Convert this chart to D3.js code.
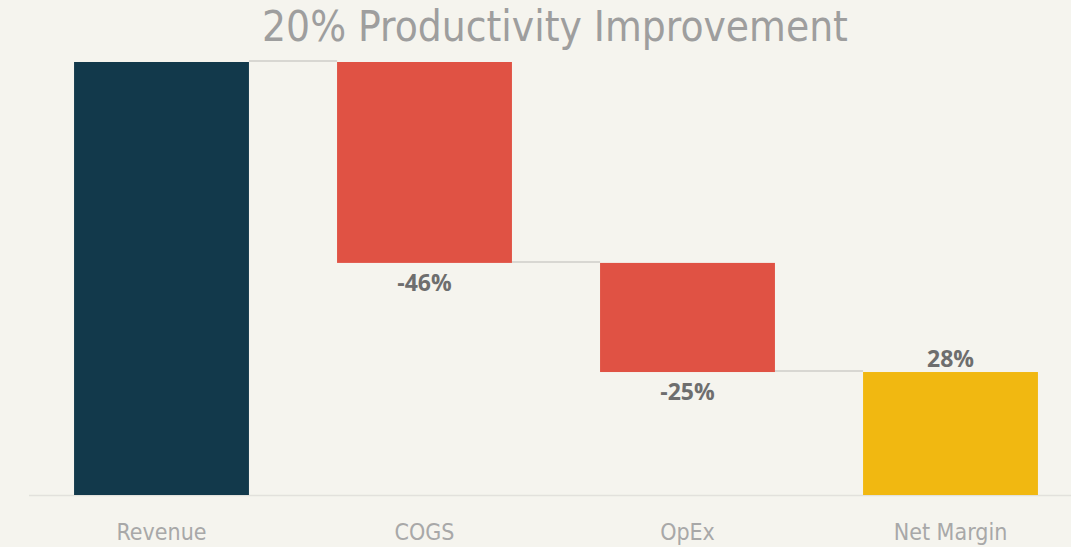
<!DOCTYPE html>
<html>
<head>
<meta charset="utf-8">
<script src="https://cdn.jsdelivr.net/npm/d3@7"></script>
<style>
  body { margin: 0; background: #f5f4ee; }
  svg { display: block; }
</style>
</head>
<body>
<svg id="chart"></svg>
<script>
// data
var categories = ["Revenue", "COGS", "OpEx", "Net Margin"];
var values = [100, -46.4, -25.2, 28.4];   // last one is the total bar
var labels = ["", "-46%", "-25%", "28%"];
var colors = ["#12394b", "#e05244", "#e05244", "#f1b811"];
var title = "20% Productivity Improvement";

var width = 1071, height = 547;
var svg = d3.select("svg#chart")
  .attr("width", width)
  .attr("height", height);

svg.append("rect")
  .attr("width", width).attr("height", height)
  .attr("fill", "#f5f4ee");

// set the ranges
var x = d3.scaleBand()
  .domain(categories)
  .range([30, 1082])
  .paddingInner(0.335)
  .paddingOuter(0.1675);
var y = d3.scaleLinear().domain([0, 100]).range([495, 62]);

// waterfall start / end for each bar
var steps = [];
var running = 0;
values.forEach(function (v, i) {
  var d = { cat: categories[i], label: labels[i], color: colors[i] };
  if (i === 0 || i === values.length - 1) {
    d.y0 = 0; d.y1 = v; running = v;
  } else {
    d.y0 = running + v; d.y1 = running; running = running + v;
  }
  steps.push(d);
});

// baseline
svg.append("line")
  .attr("x1", 29).attr("x2", width)
  .attr("y1", y(0) + 0.5).attr("y2", y(0) + 0.5)
  .attr("stroke", "#e2e1dc").attr("stroke-width", 1.5);

// connectors
for (var i = 0; i < steps.length - 1; i++) {
  var level = (i === 0) ? steps[i].y1 : steps[i].y0;
  svg.append("line")
    .attr("x1", x(steps[i].cat) + x.bandwidth())
    .attr("x2", x(steps[i + 1].cat))
    .attr("y1", y(level) - 1).attr("y2", y(level) - 1)
    .attr("stroke", "#d8d7d2").attr("stroke-width", 2);
}

// bars
svg.selectAll(".bar")
  .data(steps)
  .enter().append("rect")
  .attr("class", "bar")
  .attr("x", function (d) { return x(d.cat); })
  .attr("width", x.bandwidth())
  .attr("y", function (d) { return y(d.y1); })
  .attr("height", function (d) { return y(d.y0) - y(d.y1); })
  .attr("fill", function (d) { return d.color; });

// value labels
svg.selectAll(".val")
  .data(steps.filter(function (d) { return d.label; }))
  .enter().append("text")
  .attr("class", "val")
  .attr("x", function (d) { return x(d.cat) + x.bandwidth() / 2; })
  .attr("y", function (d, i) {
    return d.y0 === 0 ? y(d.y1) - 5 : y(d.y0) + 28;
  })
  .attr("text-anchor", "middle")
  .style("font-family", "'Open Sans', 'Noto Sans', sans-serif")
  .style("font-weight", "bold")
  .style("font-size", "23px")
  .style("fill", "#6e6e6e")
  .text(function (d) { return d.label; });

// x axis labels
svg.selectAll(".cat")
  .data(categories)
  .enter().append("text")
  .attr("class", "cat")
  .attr("x", function (d) { return x(d) + x.bandwidth() / 2; })
  .attr("y", 540)
  .attr("text-anchor", "middle")
  .style("font-family", "'Liberation Sans Narrow', 'DejaVu Sans Condensed', sans-serif")
  .style("font-size", "23px")
  .style("fill", "#a8a8a8")
  .text(function (d) { return d; });

// title
svg.append("text")
  .attr("x", 555).attr("y", 41)
  .attr("text-anchor", "middle")
  .style("font-family", "'Liberation Sans Narrow', 'DejaVu Sans Condensed', sans-serif")
  .style("font-size", "42px")
  .style("fill", "#9e9e9e")
  .text(title);
</script>
</body>
</html>
